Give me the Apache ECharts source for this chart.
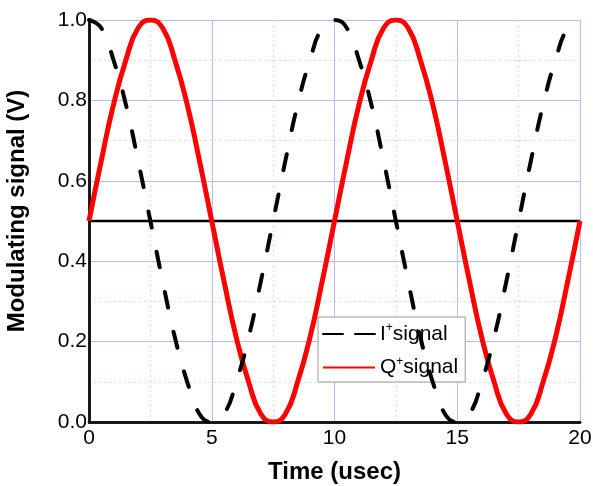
<!DOCTYPE html>
<html>
<head>
<meta charset="utf-8">
<script src="https://cdn.jsdelivr.net/npm/echarts@6/dist/echarts.min.js"></script>
<style>html,body{margin:0;padding:0;background:#fff;}#chart{width:593px;height:486px;}</style>
</head>
<body>
<div id="chart"></div>
<script>
// Sample times (usec)
var timeUs = [0,0.5,1,1.5,2,2.5,3,3.5,4,4.5,5,5.5,6,6.5,7,7.5,8,8.5,9,9.5,10,
  10.5,11,11.5,12,12.5,13,13.5,14,14.5,15,15.5,16,16.5,17,17.5,18,18.5,19,19.5,20];
// I+ modulating signal (V)
var iSignal = [1.00,0.98,0.90,0.79,0.65,0.50,0.35,0.21,0.10,0.02,0.00,0.02,0.10,0.21,0.35,0.50,0.65,0.79,0.90,0.98,1.00,
  0.98,0.90,0.79,0.65,0.50,0.35,0.21,0.10,0.02,0.00,0.02,0.10,0.21,0.35,0.50,0.65,0.79,0.90,0.98,1.00];
// Q+ modulating signal (V)
var qSignal = [0.50,0.65,0.79,0.90,0.98,1.00,0.98,0.90,0.79,0.65,0.50,0.35,0.21,0.10,0.02,0.00,0.02,0.10,0.21,0.35,0.50,
  0.65,0.79,0.90,0.98,1.00,0.98,0.90,0.79,0.65,0.50,0.35,0.21,0.10,0.02,0.00,0.02,0.10,0.21,0.35,0.50];
// DC reference level
var refLevel = 0.5;
var refSpan = [0, 20];

function pairs(xs, ys) { return xs.map(function (x, i) { return [x, ys[i]]; }); }

var chart = echarts.init(document.getElementById('chart'));
var font = 'Liberation Sans, Arial, sans-serif';
function frame() { return { show: true, lineStyle: { color: '#111', width: 2.5 } }; }
function majorGrid() { return { show: true, lineStyle: { color: '#b8b8ff', width: 1 } }; }
function minorGrid() { return { show: true, lineStyle: { color: '#c8f0c8', width: 1, type: [2, 3] } }; }
function titleStyle(pad) { return { fontFamily: font, fontSize: 24, fontWeight: 'bold', color: '#000', padding: pad }; }

chart.setOption({
  animation: false,
  grid: { left: 89, right: 13, top: 20, bottom: 64, containLabel: false, outerBoundsMode: 'none' },
  xAxis: [{
    type: 'value', min: 0, max: 20, interval: 5,
    name: 'Time (usec)', nameLocation: 'middle', nameGap: 38,
    nameTextStyle: titleStyle([0, 0, 0, 0]),
    axisLine: frame(), axisTick: { show: false },
    axisLabel: { fontFamily: font, fontSize: 21, color: '#000', margin: 6 },
    splitLine: majorGrid(),
    minorTick: { show: false, splitNumber: 2 },
    minorSplitLine: minorGrid()
  }, {
    type: 'value', position: 'top', min: 0, max: 20, interval: 5,
    axisLine: frame(), axisTick: { show: false }, axisLabel: { show: false }, splitLine: majorGrid()
  }],
  yAxis: [{
    type: 'value', min: 0, max: 1, interval: 0.2,
    name: 'Modulating signal (V)', nameLocation: 'middle', nameGap: 60,
    nameTextStyle: titleStyle([0, 0, 0, 20]),
    axisLine: frame(), axisTick: { show: false },
    axisLabel: { fontFamily: font, fontSize: 21, color: '#000', margin: 2, formatter: function (v) { return v.toFixed(1); } },
    splitLine: majorGrid(),
    minorTick: { show: false, splitNumber: 2 },
    minorSplitLine: minorGrid()
  }, {
    type: 'value', position: 'right', min: 0, max: 1, interval: 0.2,
    axisLine: frame(), axisTick: { show: false }, axisLabel: { show: false }, splitLine: majorGrid()
  }],
  legend: {
    left: 318, top: 317, orient: 'vertical',
    data: [{ name: 'I', lineStyle: { type: [20, 12] } }, { name: 'Q' }],
    itemWidth: 52, itemHeight: 20, itemGap: 11,
    padding: [5, 7, 4, 4],
    backgroundColor: '#fff', borderColor: '#999', borderWidth: 1, borderRadius: 0,
    itemStyle: { opacity: 0 },
    formatter: function (n) { return n + '{sup|+}signal'; },
    textStyle: {
      fontFamily: font, fontSize: 21, color: '#000',
      rich: { sup: { fontSize: 12, verticalAlign: 'top', padding: [0, 0, 12, 0], fontFamily: font, color: '#000' } }
    }
  },
  series: [
    {
      name: 'Q', type: 'line', smooth: true, symbol: 'none',
      data: pairs(timeUs, qSignal),
      lineStyle: { color: '#ff0000', width: 5 }, itemStyle: { color: '#ff0000' }, z: 3
    },
    {
      name: 'I', type: 'line', smooth: true, symbol: 'none',
      data: pairs(timeUs, iSignal),
      lineStyle: { color: '#000', width: 4, type: [16, 25], cap: 'round' }, itemStyle: { color: '#000' }, z: 4
    },
    {
      name: 'ref', type: 'line', symbol: 'none',
      data: refSpan.map(function (x) { return [x, refLevel]; }),
      lineStyle: { color: '#000', width: 2.5 }, z: 2
    }
  ]
});
</script>
</body>
</html>
